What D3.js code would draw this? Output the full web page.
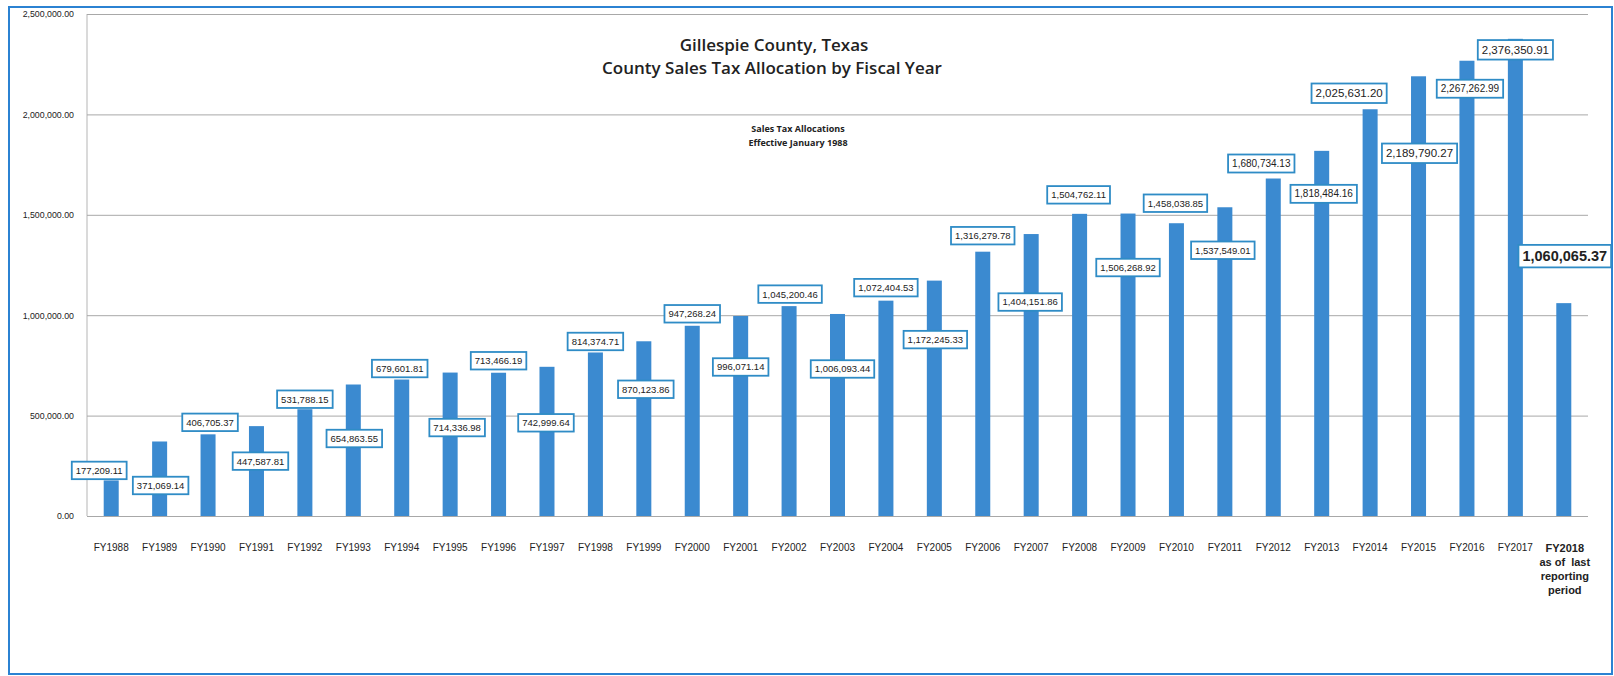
<!DOCTYPE html>
<html lang="en">
<head>
<meta charset="utf-8">
<title>Gillespie County Sales Tax Allocation</title>
<script src="https://d3js.org/d3.v7.min.js"></script>
<style>
  body { margin: 0; background: #fff; }
  text { font-family: "Liberation Sans", Arial, sans-serif; fill: #222; }
</style>
</head>
<body>
<script>
// data
var years = ["FY1988","FY1989","FY1990","FY1991","FY1992","FY1993","FY1994","FY1995","FY1996","FY1997",
             "FY1998","FY1999","FY2000","FY2001","FY2002","FY2003","FY2004","FY2005","FY2006","FY2007",
             "FY2008","FY2009","FY2010","FY2011","FY2012","FY2013","FY2014","FY2015","FY2016","FY2017","FY2018"];
var allocations = [177209.11, 371069.14, 406705.37, 447587.81, 531788.15, 654863.55, 679601.81, 714336.98,
                   713466.19, 742999.64, 814374.71, 870123.86, 947268.24, 996071.14, 1045200.46, 1006093.44,
                   1072404.53, 1172245.33, 1316279.78, 1404151.86, 1504762.11, 1506268.92, 1458038.85,
                   1537549.01, 1680734.13, 1818484.16, 2025631.20, 2189790.27, 2267262.99, 2376350.91, 1060065.37];
var yTicks = [0, 500000, 1000000, 1500000, 2000000, 2500000];
var lastYearLines = ["FY2018", "as of  last", "reporting", "period"];

// hand placed data labels (offset of box centre from bar centre / bar top, px) and font size
var labelDx = [-12,1,2,4,0,1,-2,7,0,-1,0,2,0,0,1,5,0,1,0,-1,-1,0,-1,-2,-12,2,-21,1,3,0,1];
var labelDy = [-10,44,-12,35,-10,54,-11,55,-12,56,-11,48,-12,51,-12,55,-13,59,-16,68,-19,54,-20,43,-15,43,-16,77,28,11,-47];
var labelSize = [9.5,9.5,9.5,9.5,9.5,9.5,9.5,9.5,9.5,9.5,9.5,9.5,9.5,9.5,9.5,9.5,9.5,9.5,9.5,9.5,
                 9.5,9.5,9.5,9.5,10,10,11.5,11.5,10,11.5,14.5];

var W = 1614, H = 676;
var m = {left: 87, right: 1588, top: 14, bottom: 516};
var barColor = "#3b8ad0";
var boxColor = "#2f8cc6";

var svg = d3.select("body").append("svg")
    .attr("width", W)
    .attr("height", H);

// outer frame
svg.append("rect")
    .attr("x", 9).attr("y", 7)
    .attr("width", 1603).attr("height", 667)
    .attr("fill", "#fff")
    .attr("stroke", "#2b82d2")
    .attr("stroke-width", 2);

var x = d3.scaleBand()
    .domain(years)
    .range([m.left, m.right])
    .paddingInner(0.69)
    .paddingOuter(0.345);

var y = d3.scaleLinear()
    .domain([0, 2500000])
    .range([m.bottom, m.top]);

var fmt = d3.format(",.2f");

// gridlines + y labels
var yAxis = d3.axisLeft(y)
    .tickValues(yTicks)
    .tickFormat(fmt)
    .tickSize(-(m.right - m.left))
    .tickPadding(13);

var gy = svg.append("g")
    .attr("transform", "translate(" + m.left + ",0)")
    .call(yAxis);
gy.select(".domain").attr("stroke", "#b5b5b5").attr("d", "M0," + m.top + "V" + m.bottom);
gy.selectAll(".tick line").attr("stroke", "#a8a8a8").attr("stroke-width", 1);
gy.selectAll(".tick text")
    .attr("font-size", "8.8px")
    .attr("fill", "#333")
    .style("font-family", "'Liberation Sans', Arial, sans-serif");

// bars
svg.selectAll("rect.bar")
    .data(allocations)
    .enter()
    .append("rect")
    .attr("class", "bar")
    .attr("x", function(d, i) { return x(years[i]); })
    .attr("y", function(d) { return y(d); })
    .attr("width", x.bandwidth())
    .attr("height", function(d) { return y(0) - y(d); })
    .attr("fill", barColor);

// x labels
var xl = svg.append("g");
years.forEach(function(yr, i) {
    var cx = x(yr) + x.bandwidth() / 2;
    if (i < years.length - 1) {
        xl.append("text")
            .attr("x", cx)
            .attr("y", 551)
            .attr("text-anchor", "middle")
            .attr("font-size", "10px")
            .attr("fill", "#333")
            .text(yr);
    } else {
        lastYearLines.forEach(function(t, j) {
            xl.append("text")
                .attr("x", cx + 1)
                .attr("y", 552 + j * 14)
                .attr("text-anchor", "middle")
                .attr("font-size", "11px")
                .attr("font-weight", "bold")
                .style("white-space", "pre")
                .text(t);
        });
    }
});

// value labels in boxes
var lg = svg.append("g");
allocations.forEach(function(v, i) {
    var cx = x(years[i]) + x.bandwidth() / 2 + labelDx[i];
    var cy = y(v) + labelDy[i];
    var fs = labelSize[i];
    var g = lg.append("g");
    var r = g.append("rect");
    var t = g.append("text")
        .attr("x", cx)
        .attr("y", cy)
        .attr("dy", "0.36em")
        .attr("text-anchor", "middle")
        .attr("font-size", fs + "px")
        .attr("font-weight", i === allocations.length - 1 ? "bold" : "normal")
        .text(fmt(v));
    var tw = t.node().getComputedTextLength();
    var bh = fs + 8;
    r.attr("x", cx - tw / 2 - 4)
        .attr("y", cy - bh / 2)
        .attr("width", tw + 8)
        .attr("height", bh)
        .attr("fill", "#fff")
        .attr("stroke", boxColor)
        .attr("stroke-width", 1.8);
});

// titles
svg.append("text")
    .attr("x", 774).attr("y", 51)
    .attr("text-anchor", "middle")
    .attr("font-size", "17px")
    .attr("font-weight", "600")
    .style("font-family", "'Open Sans', sans-serif")
    .text("Gillespie County, Texas");
svg.append("text")
    .attr("x", 772).attr("y", 74)
    .attr("text-anchor", "middle")
    .attr("font-size", "17px")
    .attr("font-weight", "600")
    .style("font-family", "'Open Sans', sans-serif")
    .text("County Sales Tax Allocation by Fiscal Year");

svg.append("text")
    .attr("x", 798).attr("y", 132)
    .attr("text-anchor", "middle")
    .attr("font-size", "9px")
    .attr("font-weight", "bold")
    .style("font-family", "'Open Sans', sans-serif")
    .text("Sales Tax Allocations");
svg.append("text")
    .attr("x", 798).attr("y", 146)
    .attr("text-anchor", "middle")
    .attr("font-size", "9px")
    .attr("font-weight", "bold")
    .style("font-family", "'Open Sans', sans-serif")
    .text("Effective January 1988");
</script>
</body>
</html>
